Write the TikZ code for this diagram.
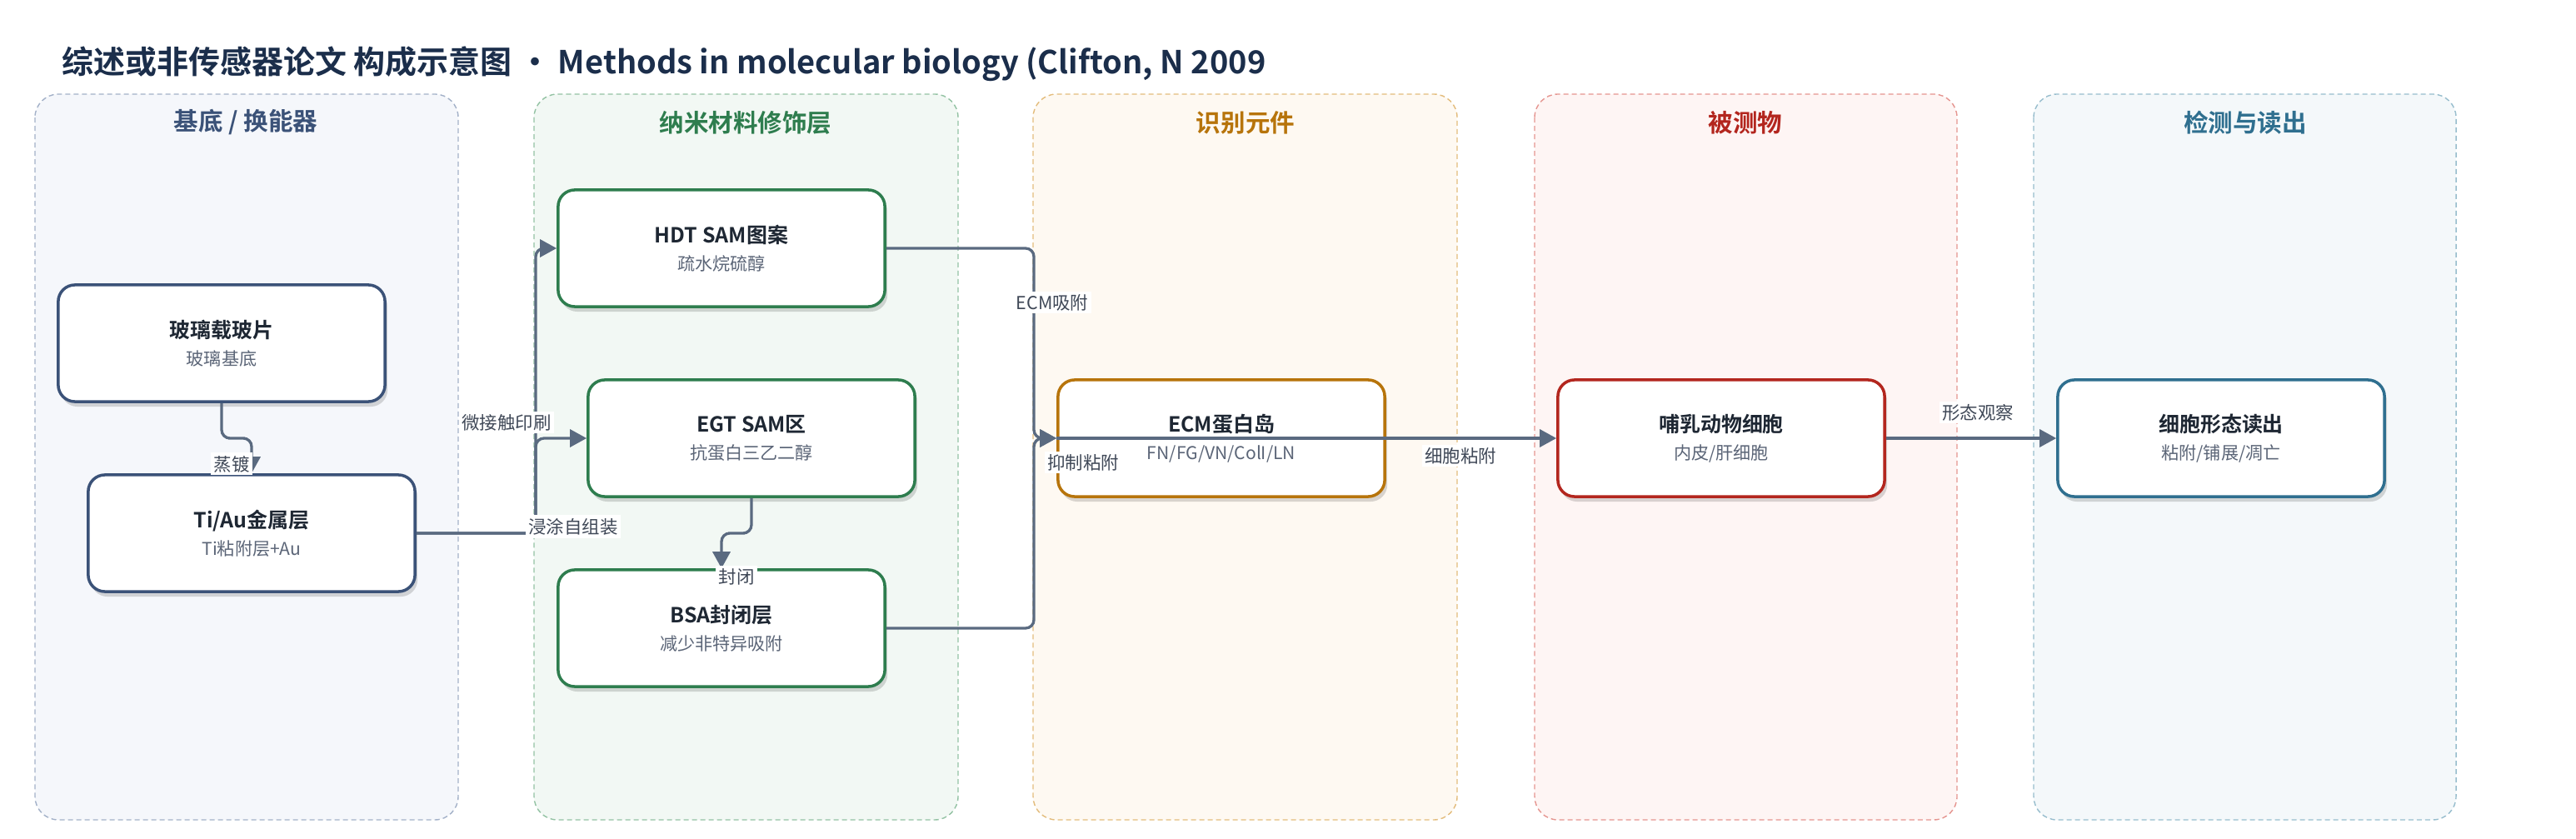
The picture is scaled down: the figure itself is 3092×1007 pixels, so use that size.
\documentclass[tikz,border=0pt]{standalone}
\usepackage{fontspec}
\setmainfont{Noto Sans CJK SC}[BoldFont={Noto Sans CJK SC Bold}]
\usetikzlibrary{arrows.meta,calc,shadows}

\definecolor{titleink}{HTML}{1B2E4B}
\definecolor{ink}{HTML}{1E2733}
\definecolor{subgray}{HTML}{5B6577}
\definecolor{edgegray}{HTML}{5A6A80}
\definecolor{taggray}{HTML}{3F4857}
% column colours: heading/border, fill, dashed frame
\definecolor{subC}{HTML}{3B5278}\definecolor{subF}{HTML}{F5F7FB}\definecolor{subD}{HTML}{A3B1C8}
\definecolor{nanoC}{HTML}{2E7D4E}\definecolor{nanoF}{HTML}{F2F8F4}\definecolor{nanoD}{HTML}{93C2A3}
\definecolor{recC}{HTML}{B7740B}\definecolor{recF}{HTML}{FEF9F2}\definecolor{recD}{HTML}{E3BC7C}
\definecolor{anaC}{HTML}{B3261E}\definecolor{anaF}{HTML}{FEF5F4}\definecolor{anaD}{HTML}{E59590}
\definecolor{outC}{HTML}{2F6F8F}\definecolor{outF}{HTML}{F4F8FA}\definecolor{outD}{HTML}{97BDCD}

\newcommand{\blocktext}[2]{\textbf{#1}\\{\color{subgray}\fontsize{6}{8}\selectfont #2}}

\begin{document}
\begin{tikzpicture}[x=0.01cm, y=-0.01cm,
    panel/.style 2 args={draw=#1, fill=#2, line width=0.4pt, dash pattern=on 0.06cm off 0.04cm, rounded corners=0.28cm},
    head/.style={text=#1, font=\bfseries\fontsize{8.4}{10}\selectfont},
    block/.style={draw=#1, fill=white, line width=1pt, rounded corners=0.2cm,
        minimum width=3.92cm, minimum height=1.40cm, align=center, text=ink,
        font=\fontsize{7.1}{9.4}\selectfont,
        drop shadow={shadow xshift=0.03cm, shadow yshift=-0.06cm, opacity=0.15, fill=black}},
    flow/.style={draw=edgegray, line width=0.94pt, rounded corners=0.1cm, -{Triangle[length=0.2cm,width=0.21cm]}},
    tag/.style={fill=white, text=taggray, inner sep=1pt, font=\fontsize{6.1}{7}\selectfont}]
  \useasboundingbox (0,0) rectangle (3092,1007);

  % Title
  \node[anchor=west, text=titleink, font=\bfseries\fontsize{10.8}{13}\selectfont] (title) at (62,77)
    {综述或非传感器论文 构成示意图 • Methods in molecular biology (Clifton, N 2009};

  % Columns
  \draw[panel={subD}{subF}] (42,113) rectangle (550,984);
  \draw[panel={nanoD}{nanoF}] (641,113) rectangle (1150,984);
  \draw[panel={recD}{recF}] (1240,113) rectangle (1749,984);
  \draw[panel={anaD}{anaF}] (1842,113) rectangle (2349,984);
  \draw[panel={outD}{outF}] (2441,113) rectangle (2948,984);
  \node[head=subC] (h1) at (295,147) {基底 / 换能器};
  \node[head=nanoC] (h2) at (895,147) {纳米材料修饰层};
  \node[head=recC] (h3) at (1495,147) {识别元件};
  \node[head=anaC] (h4) at (2095,147) {被测物};
  \node[head=outC] (h5) at (2695,147) {检测与读出};

  % Blocks
  \node[block=subC] (glass) at (266,412) {\blocktext{玻璃载玻片}{玻璃基底}};
  \node[block=subC] (tiau) at (302,640) {\blocktext{Ti/Au金属层}{Ti粘附层+Au}};
  \node[block=nanoC] (hdt) at (866,298) {\blocktext{HDT SAM图案}{疏水烷硫醇}};
  \node[block=nanoC] (egt) at (902,526) {\blocktext{EGT SAM区}{抗蛋白三乙二醇}};
  \node[block=nanoC] (bsa) at (866,754) {\blocktext{BSA封闭层}{减少非特异吸附}};
  \node[block=recC] (ecm) at (1466,526) {\blocktext{ECM蛋白岛}{FN/FG/VN/ColI/LN}};
  \node[block=anaC] (cells) at (2066,526) {\blocktext{哺乳动物细胞}{内皮/肝细胞}};
  \node[block=outC] (readout) at (2666,526) {\blocktext{细胞形态读出}{粘附/铺展/凋亡}};

  % Connectors
  \coordinate (busL) at (643,640);
  \coordinate (busR) at (1241,526);
  \draw[flow] (glass.south) |- ($(glass.south)!.5!(tiau.north)$) -| (tiau.north);
  \draw[flow] (tiau.east) -- (busL) |- (hdt.west);
  \draw[flow] (tiau.east) -- (busL) |- (egt.west);
  \draw[flow] (egt.south) |- ($(egt.south)!.5!(bsa.north)$) -| (bsa.north);
  \draw[flow] (hdt.east) -| (busR) -- (ecm.west);
  \draw[flow] (bsa.east) -| (busR) -- (ecm.west);
  \draw[flow] (ecm.west) -- (cells.west);
  \draw[flow] (cells.east) -- (readout.west);

  % Connector labels
  \node[tag] (t1) at (278,557) {蒸镀};
  \node[tag] (t2) at (608,507) {微接触印刷};
  \node[tag] (t3) at (688,632) {浸涂自组装};
  \node[tag] (t4) at (884,692) {封闭};
  \node[tag] (t5) at (1263,363) {ECM吸附};
  \node[tag] (t6) at (1300,555) {抑制粘附};
  \node[tag] (t7) at (1753,547) {细胞粘附};
  \node[tag] (t8) at (2374,495) {形态观察};
\end{tikzpicture}
\end{document}
